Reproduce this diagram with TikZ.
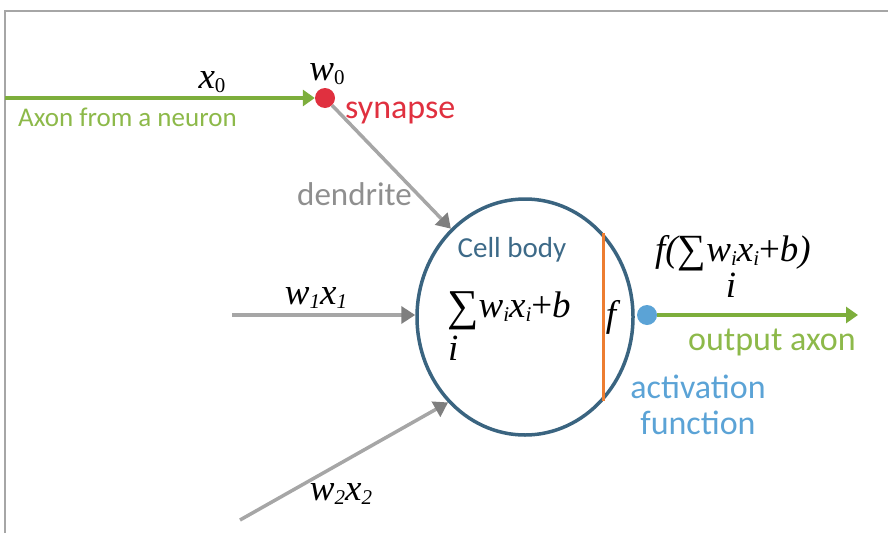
\documentclass[tikz,border=0pt]{standalone}
\usepackage{fontspec}
\setmainfont{Carlito}
\newfontfamily\tnr{Liberation Serif}
\usepackage{xcolor}
\usepackage{tikz}
\usetikzlibrary{arrows.meta,shapes.geometric}

\definecolor{axongreen}{HTML}{7DAE3C}
\definecolor{labelgreen}{HTML}{8DB94A}
\definecolor{synred}{HTML}{E0303F}
\definecolor{dendgray}{HTML}{A6A6A6}
\definecolor{tipgray}{HTML}{7F7F7F}
\definecolor{dendtext}{HTML}{8F8F8F}
\definecolor{cellblue}{HTML}{3A6480}
\definecolor{celltext}{HTML}{3D6A88}
\definecolor{actorange}{HTML}{ED7D31}
\definecolor{actblue}{HTML}{5BA3D6}

\newcommand{\sz}[1]{\fontsize{#1}{36}\selectfont}
\newcommand{\low}[1]{\raisebox{-4pt}{\fontsize{21}{21}\selectfont #1}}
\newcommand{\bigsum}[2]{\raisebox{-#2pt}{\upshape\fontsize{#1}{#1}\selectfont ∑}}

\begin{document}
\begin{tikzpicture}[x=1pt, y=-1pt, line cap=butt,
    axon/.style={axongreen, line width=4pt, -{Triangle[length=12pt,width=16pt]}},
    dend/.style={dendgray, line width=3.5pt, -{Triangle[length=14pt,width=17pt,color=tipgray]}},
    dot/.style={circle, minimum size=20pt, inner sep=0pt},
    lbl/.style={inner sep=0pt},
    mth/.style={inner sep=0pt, font=\tnr\itshape\sz{37}}]

\useasboundingbox (0,0) rectangle (888,533);

% Cornice
\draw[dendgray, line width=2.5pt] (5,533) -- (5,11) -- (888,11);

% Corpo cellulare
\node[ellipse, draw=cellblue, line width=3.5pt, minimum width=216pt,
      minimum height=236pt, inner sep=0pt] (cell) at (525,317) {};
\draw[actorange, line width=2.5pt] (cell.47) -- (cell.-47);

% Sinapsi e funzione di attivazione
\node[dot, fill=synred] (syn) at (325,98) {};
\node[dot, fill=actblue] (act) at (647,315) {};

% Assoni e dendriti
\coordinate (axin) at (5,98);
\coordinate (in1) at (232,315);
\coordinate (in2) at (240,520);
\coordinate (out) at (858,315);
\draw[axon] (axin) -- (syn.west);
\draw[dend] (syn) -- (cell.130);
\draw[dend] (in1) -- (in1 -| cell.west);
\draw[dend] (in2) -- (cell.228);
\draw[axon] (act) -- (out);

% Etichette
\node[mth, anchor=base] (x0) at (212,88) {x\low{\upshape 0}};
\node[mth, anchor=base] (w0) at (327,80) {w\low{\upshape 0}};
\node[mth, anchor=base] (w1x1) at (316,304) {w\low{1}x\low{1}};
\node[mth, anchor=base] (w2x2) at (341,500) {w\low{2}x\low{2}};
\node[mth, anchor=base west] (sum) at (447,317) {\bigsum{44}{3}w\low{i}x\low{i}{\upshape +}b};
\node[mth, anchor=base west] (sumi) at (448,360) {i};
\node[mth, anchor=base] (fin) at (611,326) {f};
\node[mth, anchor=base west] (fout) at (655,261) {f(\bigsum{40}{1}w\low{i}x\low{i}{\upshape +}b)};
\node[mth, anchor=base] (fouti) at (731,297) {i};

\node[lbl, anchor=base west, labelgreen, font=\sz{27}] (axonlbl) at (18,126) {Axon from a neuron};
\node[lbl, anchor=base west, synred, font=\sz{34}] (synlbl) at (345,118) {synapse};
\node[lbl, anchor=base west, dendtext, font=\sz{33}] (dendlbl) at (297,205) {dendrite};
\node[lbl, anchor=base, celltext, font=\sz{29}] (celllbl) at (512,257) {Cell body};
\node[lbl, anchor=base west, labelgreen, font=\sz{34}] (outlbl) at (688,350) {output axon};
\node[lbl, anchor=north, actblue, font=\sz{34}, align=center] (actlbl) at (698,375) {activation\\function};

\end{tikzpicture}
\end{document}
